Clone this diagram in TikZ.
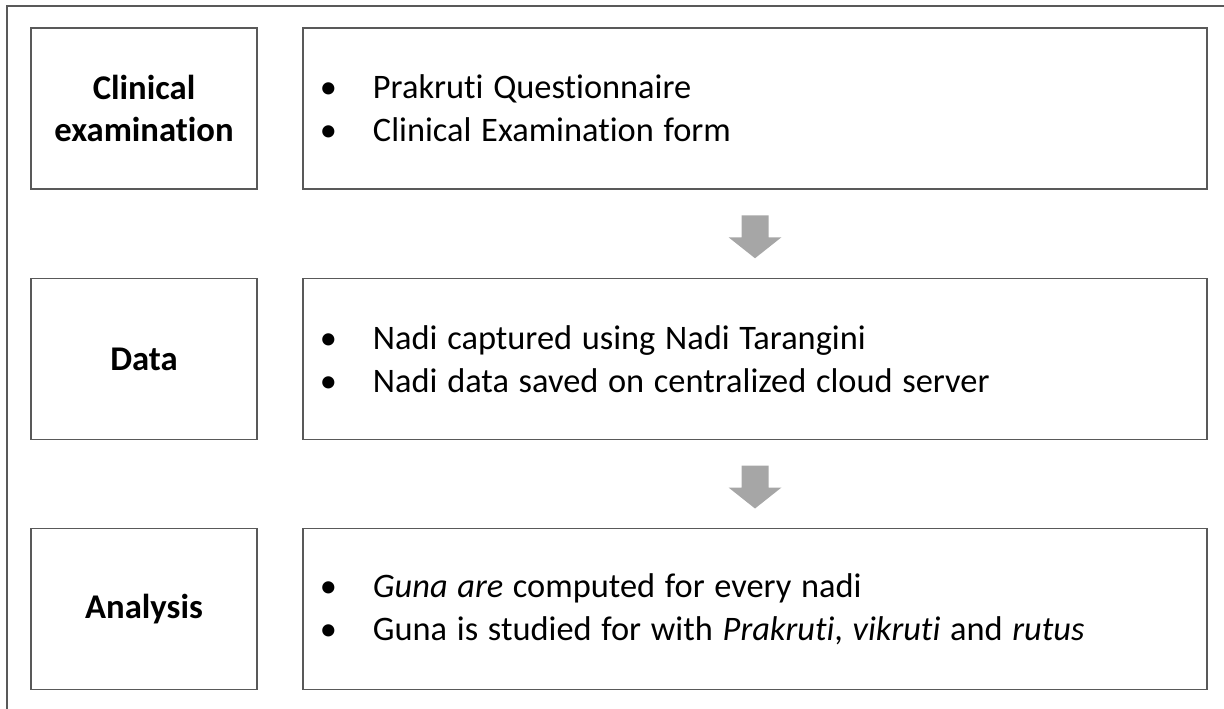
\documentclass[tikz,border=0pt]{standalone}
\usepackage{fontspec}
\setmainfont[Ligatures=NoCommon]{Carlito}
\usetikzlibrary{calc}
\definecolor{edge}{HTML}{595959}
\definecolor{arrowgray}{HTML}{A6A6A6}
\tikzset{
  box/.style={draw=edge, line width=1.4bp, minimum height=161bp, inner sep=0pt},
  titlebox/.style={box, minimum width=226bp, align=center, font=\fontsize{34.8}{43}\selectfont\bfseries},
  listbox/.style={box, text width=870bp, inner xsep=17bp, align=left, font=\fontsize{34.5}{43}\selectfont},
  blockarrow/.style={fill=arrowgray, draw=none}
}
\newcommand{\bul}{\setlength{\spaceskip}{9.7bp}\makebox[53bp][l]{\textbullet}}
\begin{document}
\begin{tikzpicture}[x=1bp,y=-1bp]
\useasboundingbox (0,0) rectangle (1224,709);
\draw[edge, line width=1.4bp] (7,720) -- (7,6) -- (1235,6);
\node[titlebox] (t1) at (144,108.5) {Clinical\\examination};
\node[titlebox] (t2) at (144,359) {Data};
\node[titlebox] (t3) at (144,609) {Analysis};
\node[listbox] (r1) at (755,108.5) {\bul Prakruti Questionnaire\\\bul Clinical Examination form};
\node[listbox] (r2) at (755,359) {\bul Nadi captured using Nadi Tarangini\\\bul Nadi data saved on centralized cloud server};
\node[listbox] (r3) at (755,609) {\bul \textit{Guna are} computed for every nadi\\\bul Guna is studied for with \textit{Prakruti}, \textit{vikruti} and \textit{rutus}};
\foreach \a/\b in {r1/r2, r2/r3}{
  \coordinate (m) at ($(\a.south)!0.5!(\b.north)+(0,3)$);
  \fill[blockarrow] ($(m)+(-13.5,-21.5)$) -- ($(m)+(13.5,-21.5)$) -- ($(m)+(13.5,0.5)$) -- ($(m)+(26.5,0.5)$) -- ($(m)+(0,21.5)$) -- ($(m)+(-26.5,0.5)$) -- ($(m)+(-13.5,0.5)$) -- cycle;
}
\end{tikzpicture}
\end{document}
